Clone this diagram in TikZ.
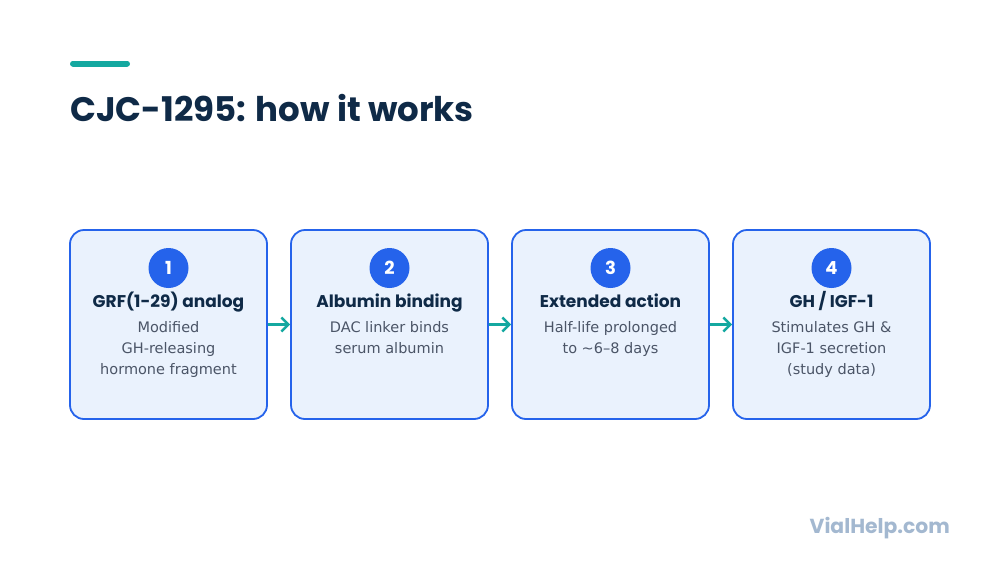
\documentclass[tikz,border=0pt]{standalone}
\usepackage{fontspec}
\setmainfont{DejaVu Sans}
\newfontfamily\pop{Poppins}[UprightFont=* Bold]
\usetikzlibrary{arrows.meta}
\definecolor{navy}{HTML}{0F2A47}
\definecolor{teal}{HTML}{14A8A0}
\definecolor{boxblue}{HTML}{2563EB}
\definecolor{boxfill}{HTML}{EAF2FD}
\definecolor{bodygray}{HTML}{4B5567}
\definecolor{foot}{HTML}{A3B8D0}
\tikzset{
  stepbox/.style={draw=boxblue, line width=1.8pt, fill=boxfill, rounded corners=14pt, minimum width=197pt, minimum height=189pt, inner sep=0pt},
  numdot/.style={circle, fill=boxblue, minimum size=40pt, inner sep=0pt, text=white, font=\pop\fontsize{18}{20}\selectfont},
  heading/.style={text=navy, font=\pop\fontsize{17}{20}\selectfont, inner sep=0pt},
  body/.style={text=bodygray, font=\fontsize{14.5}{21}\selectfont, align=center, inner sep=0pt, anchor=north},
  flow/.style={draw=teal, line width=2.4pt, -{Straight Barb[length=7pt,width=14pt,line width=2.4pt]}}
}
\begin{document}
\begin{tikzpicture}[x=1pt,y=-1pt]
\useasboundingbox (0,0) rectangle (1000,563);
\fill[white] (0,0) rectangle (1000,563);
\draw[teal, line width=6pt, line cap=round] (73,63.5) -- (127,63.5);
\node[anchor=base west, inner sep=0pt, text=navy, font=\pop\fontsize{34}{40}\selectfont] (title) at (70,121) {CJC-1295: how it works};
\foreach \i/\x/\h/\b in {1/168.5/{GRF(1-29) analog}/{Modified\\GH-releasing\\hormone fragment},
                         2/389.5/{Albumin binding}/{DAC linker binds\\serum albumin},
                         3/610.5/{Extended action}/{Half-life prolonged\\to \textasciitilde6–8 days},
                         4/831.5/{GH / IGF-1}/{Stimulates GH \&\\IGF-1 secretion\\(study data)}} {
  \node[stepbox] (box\i) at (\x,324.5) {};
  \node[numdot] (num\i) at (\x,268) {\i};
  \node[heading, anchor=base] (head\i) at (\x,307.5) {\h};
  \node[body] (body\i) at (\x,321.5) {\b};
}
\draw[flow] (box1.east) -- (box2.west);
\draw[flow] (box2.east) -- (box3.west);
\draw[flow] (box3.east) -- (box4.west);
\node[anchor=base east, inner sep=0pt, text=foot, font=\pop\fontsize{20.3}{24}\selectfont] (footer) at (950,533) {VialHelp.com};
\end{tikzpicture}
\end{document}
